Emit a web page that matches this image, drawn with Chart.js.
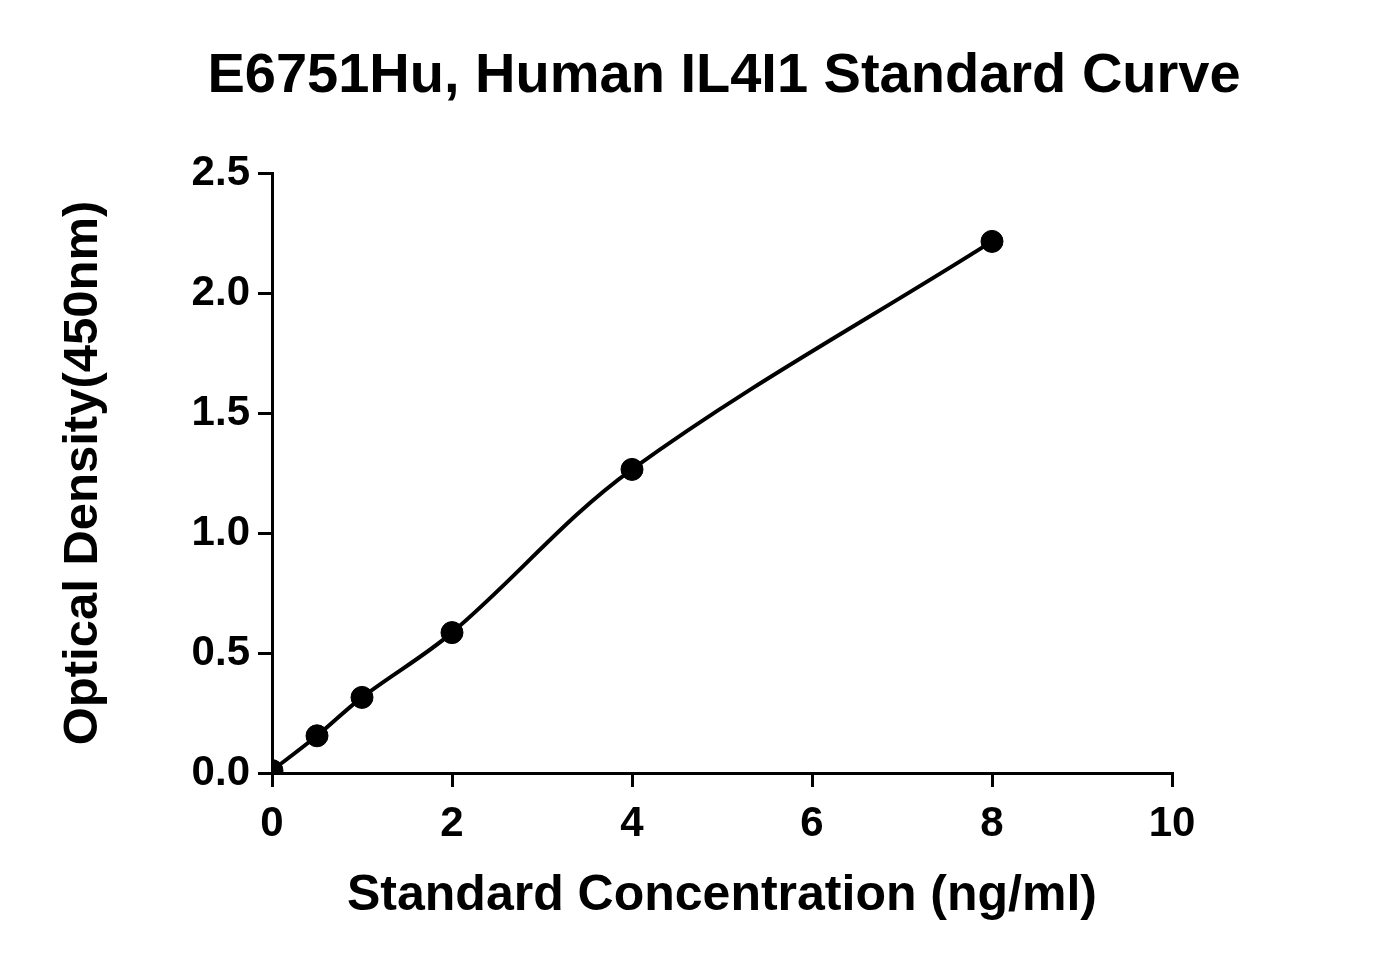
<!DOCTYPE html>
<html><head><meta charset="utf-8">
<script src="https://cdn.jsdelivr.net/npm/chart.js@4"></script>
<style>html,body{margin:0;padding:0;background:#fff}#w{width:1377px;height:975px}</style>
</head><body><div id="w"><canvas id="c"></canvas></div>
<script>
const titleText = "E6751Hu, Human IL4I1 Standard Curve";
const xTitle = "Standard Concentration (ng/ml)";
const yTitle = "Optical Density(450nm)";
const concentrations = [0, 0.5, 1, 2, 4, 8];
const odValues = [0.01, 0.155, 0.315, 0.585, 1.265, 2.215];

const pts = concentrations.map((x, i) => ({x, y: odValues[i]}));
const F = "'Liberation Sans', Arial, sans-serif";

const titlePlugin = {
  id: 'tt',
  afterDraw(chart) {
    const ctx = chart.ctx;
    ctx.save();
    ctx.font = "bold 56px " + F;
    ctx.fillStyle = "#000";
    ctx.textAlign = "center";
    ctx.textBaseline = "middle";
    ctx.fillText(titleText, 724, 77);
    ctx.restore();
  }
};

new Chart(document.getElementById('c'), {
  type: 'scatter',
  data: { datasets: [
    { type: 'line', data: pts, borderColor: '#000', borderWidth: 4, pointRadius: 0, tension: 0.35, fill: false },
    { data: pts, backgroundColor: '#000', borderColor: '#000', pointRadius: 11, pointHoverRadius: 11 }
  ]},
  options: {
    responsive: true, maintainAspectRatio: false, animation: false,
    layout: { padding: { top: 173, right: 205, left: 50, bottom: 45 } },
    plugins: { legend: { display: false }, tooltip: { enabled: false } },
    scales: {
      x: {
        type: 'linear', min: 0, max: 10,
        ticks: { stepSize: 2, color: '#000', font: { size: 42, weight: 'bold', family: F }, padding: 12 },
        grid: { drawOnChartArea: false, color: '#000', lineWidth: 3, tickLength: 14 },
        border: { color: '#000', width: 3 },
        title: { display: true, text: xTitle, color: '#000', font: { size: 50, weight: 'bold', family: F }, padding: { top: 10 } },
        afterFit(s) { s.height = 157; }
      },
      y: {
        min: 0, max: 2.5,
        ticks: { stepSize: 0.5, color: '#000', font: { size: 42, weight: 'bold', family: F }, padding: 8, callback: v => v.toFixed(1) },
        grid: { drawOnChartArea: false, color: '#000', lineWidth: 3, tickLength: 14 },
        border: { color: '#000', width: 3 },
        title: { display: true, text: yTitle, color: '#000', font: { size: 49, weight: 'bold', family: F }, padding: { bottom: 20 } },
        afterFit(s) { s.width = 222; }
      }
    }
  },
  plugins: [titlePlugin]
});
</script></body></html>
